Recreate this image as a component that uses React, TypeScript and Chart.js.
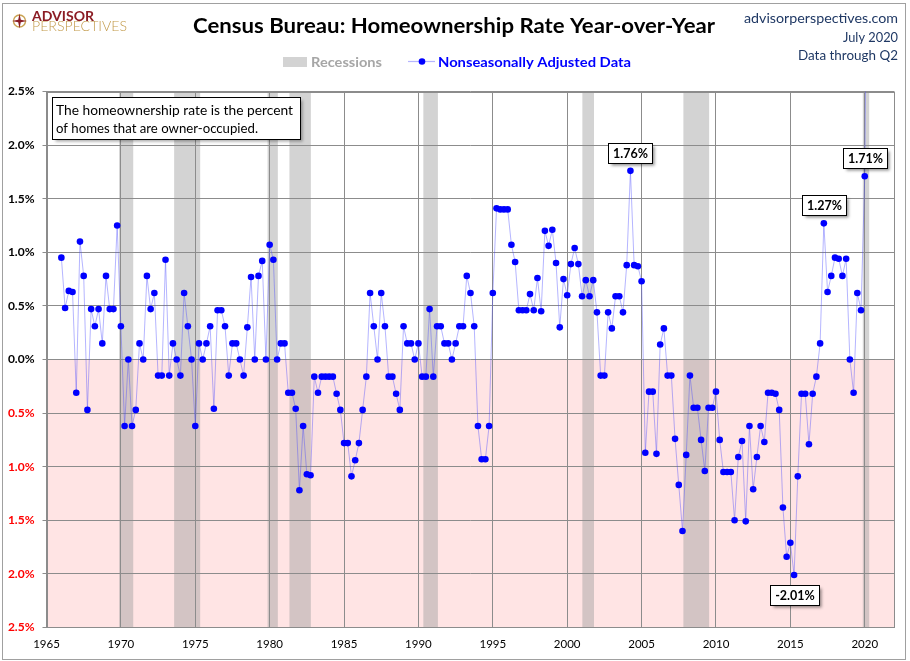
import React, { useEffect, useRef } from 'react';
import { Chart, registerables } from 'chart.js';

Chart.register(...registerables);

// ---------------- DATA ----------------
// Year-over-year % change in the (nonseasonally adjusted) homeownership rate, quarterly, starting 1966 Q1
const FIRST_YEAR = 1966;
const yoy1960s = [0.95, 0.48, 0.64, 0.63, -0.31, 1.10, 0.78, -0.47, 0.47, 0.31, 0.47, 0.15, 0.78, 0.47, 0.47, 1.25];
const yoy1970s = [
  0.31, -0.62, 0.00, -0.62, -0.47, 0.15, 0.00, 0.78, 0.47, 0.62, -0.15, -0.15, 0.93, -0.15, 0.15, 0.00,
  -0.15, 0.62, 0.31, 0.00, -0.62, 0.15, 0.00, 0.15, 0.31, -0.46, 0.46, 0.46, 0.31, -0.15, 0.15, 0.15,
  0.00, -0.15, 0.30, 0.77, 0.00, 0.78, 0.92, 0.00,
];
const yoy1980s = [
  1.07, 0.93, 0.00, 0.15, 0.15, -0.31, -0.31, -0.46, -1.22, -0.62, -1.07, -1.08, -0.16, -0.31, -0.16, -0.16,
  -0.16, -0.16, -0.32, -0.47, -0.78, -0.78, -1.09, -0.94, -0.78, -0.47, -0.16, 0.62, 0.31, 0.00, 0.62, 0.31,
  -0.16, -0.16, -0.32, -0.47, 0.31, 0.15, 0.15, 0.00,
];
const yoy1990s = [
  0.15, -0.16, -0.16, 0.47, -0.16, 0.31, 0.31, 0.15, 0.15, 0.00, 0.15, 0.31, 0.31, 0.78, 0.62, 0.31,
  -0.62, -0.93, -0.93, -0.62, 0.62, 1.41, 1.40, 1.40, 1.40, 1.07, 0.91, 0.46, 0.46, 0.46, 0.61, 0.46,
  0.76, 0.45, 1.20, 1.06, 1.21, 0.90, 0.30, 0.75,
];
const yoy2000s = [
  0.60, 0.89, 1.04, 0.89, 0.59, 0.74, 0.59, 0.74, 0.44, -0.15, -0.15, 0.44, 0.29, 0.59, 0.59, 0.44,
  0.88, 1.76, 0.88, 0.87, 0.73, -0.87, -0.30, -0.30, -0.88, 0.14, 0.29, -0.15, -0.15, -0.74, -1.17, -1.60,
  -0.89, -0.15, -0.45, -0.45, -0.75, -1.04, -0.45, -0.45,
];
const yoy2010s = [
  -0.30, -0.75, -1.05, -1.05, -1.05, -1.50, -0.91, -0.76, -1.51, -0.62, -1.21, -0.91, -0.62, -0.77, -0.31, -0.31,
  -0.32, -0.47, -1.38, -1.84, -1.71, -2.01, -1.09, -0.32, -0.32, -0.79, -0.32, -0.16, 0.15, 1.27, 0.63, 0.78,
  0.95, 0.94, 0.78, 0.94, 0.00, -0.31, 0.62, 0.46,
];
const yoy2020s = [1.71, 5.93];

// Recessions (decimal years)
const recessionStart = [1969.88, 1973.58, 1979.86, 1981.33, 1990.33, 2001.02, 2007.81, 2019.87];
const recessionEnd = [1970.83, 1975.33, 1980.55, 1982.77, 1991.31, 2001.8, 2009.54, 2020.3];

// Callouts
const calloutYears = [2004, 2017, 2020, 2015];
const calloutQuarters = [2, 2, 1, 2];
const calloutBelow = [false, false, false, true];

// Axis
const X_MIN = 1965;
const X_MAX = 2022;
const xTickValues = [1965, 1970, 1975, 1980, 1985, 1990, 1995, 2000, 2005, 2010, 2015, 2020];
const Y_MIN = -2.5;
const Y_MAX = 2.5;
const Y_STEP = 0.5;

// Text
const TITLE = 'Census Bureau: Homeownership Rate Year-over-Year';
const SITE = 'advisorperspectives.com';
const DATE_TEXT = 'July 2020';
const THROUGH_TEXT = 'Data through Q2';
const NOTE_LINES = ['The homeownership rate is the percent', 'of homes that are owner-occupied.'];
const LEGEND_RECESSIONS = 'Recessions';
const LEGEND_SERIES = 'Nonseasonally Adjusted Data';

// ---------------- STYLE ----------------
const FONT = 'Lato, "Open Sans", "DejaVu Sans", sans-serif';
const GRID = '#8c8c8c';
const PINK = '#ffe4e4';
const BAND = 'rgba(160,160,160,0.46)';
const NAVY = '#1f3864';
const LINE = 'rgba(70,70,255,0.40)';
const DOT = '#0000ff';

const allValues = [...yoy1960s, ...yoy1970s, ...yoy1980s, ...yoy1990s, ...yoy2000s, ...yoy2010s, ...yoy2020s];
const points = allValues.map((v, i) => ({ x: FIRST_YEAR + i / 4, y: v }));

function fitText(
  ctx: CanvasRenderingContext2D,
  text: string,
  x: number,
  y: number,
  width: number,
  font: string,
  color: string,
  align: 'left' | 'center' | 'right' = 'left'
) {
  ctx.save();
  ctx.font = font;
  ctx.fillStyle = color;
  ctx.textBaseline = 'alphabetic';
  ctx.textAlign = 'left';
  const w = ctx.measureText(text).width || 1;
  const s = width / w;
  const x0 = align === 'left' ? x : align === 'center' ? x - width / 2 : x - width;
  ctx.translate(x0, y);
  ctx.scale(s, 1);
  ctx.fillText(text, 0, 0);
  ctx.restore();
}

const decorPlugin = {
  id: 'decor',
  beforeDraw(chart: any) {
    const { ctx, chartArea: a, scales } = chart;
    const xs = scales.x;
    const ys = scales.y;
    ctx.save();
    ctx.fillStyle = '#ffffff';
    ctx.fillRect(0, 0, chart.width, chart.height);
    const y0 = ys.getPixelForValue(0);
    ctx.fillStyle = PINK;
    ctx.fillRect(a.left, y0, a.right - a.left, a.bottom - y0);
    ctx.fillStyle = BAND;
    recessionStart.forEach((s, i) => {
      const x1 = xs.getPixelForValue(s);
      const x2 = xs.getPixelForValue(recessionEnd[i]);
      ctx.fillRect(x1, a.top, x2 - x1, a.bottom - a.top);
    });
    ctx.restore();
  },
  beforeDatasetsDraw(chart: any) {
    const { ctx, chartArea: a } = chart;
    ctx.save();
    ctx.strokeStyle = GRID;
    ctx.lineWidth = 1;
    ctx.strokeRect(Math.round(a.left) + 0.5, Math.round(a.top) + 0.5, Math.round(a.right - a.left) - 1, Math.round(a.bottom - a.top) - 1);
    ctx.restore();
  },
  afterDraw(chart: any) {
    const { ctx } = chart;
    const meta = chart.getDatasetMeta(0);

    // callouts
    calloutYears.forEach((yr, i) => {
      const idx = (yr - FIRST_YEAR) * 4 + (calloutQuarters[i] - 1);
      const el = meta.data[idx];
      if (!el) return;
      const text = allValues[idx].toFixed(2) + '%';
      ctx.save();
      ctx.font = `bold 12.5px ${FONT}`;
      const tw = ctx.measureText(text).width;
      const bw = Math.round(tw + 9);
      const bh = 20;
      const bx = Math.round(el.x - bw / 2) + 0.5;
      const by = calloutBelow[i] ? Math.round(el.y + 10) + 0.5 : Math.round(el.y - 8 - bh) + 0.5;
      ctx.shadowColor = 'rgba(0,0,0,0.45)';
      ctx.shadowBlur = 3;
      ctx.shadowOffsetX = 2;
      ctx.shadowOffsetY = 2;
      ctx.fillStyle = '#ffffff';
      ctx.fillRect(bx, by, bw, bh);
      ctx.shadowColor = 'transparent';
      ctx.strokeStyle = '#000000';
      ctx.lineWidth = 1;
      ctx.strokeRect(bx, by, bw, bh);
      ctx.fillStyle = '#000000';
      ctx.textAlign = 'center';
      ctx.textBaseline = 'middle';
      ctx.fillText(text, bx + bw / 2, by + bh / 2 + 0.5);
      ctx.restore();
    });

    // note box
    ctx.save();
    ctx.shadowColor = 'rgba(0,0,0,0.35)';
    ctx.shadowBlur = 3;
    ctx.shadowOffsetX = 2;
    ctx.shadowOffsetY = 2;
    ctx.fillStyle = '#ffffff';
    ctx.fillRect(52.5, 97.5, 248, 42);
    ctx.shadowColor = 'transparent';
    ctx.strokeStyle = '#000000';
    ctx.lineWidth = 1;
    ctx.strokeRect(52.5, 97.5, 248, 42);
    ctx.restore();
    fitText(ctx, NOTE_LINES[0], 56, 114.5, 237, `14px ${FONT}`, '#000000');
    fitText(ctx, NOTE_LINES[1], 56, 133, 202, `14px ${FONT}`, '#000000');

    // title
    fitText(ctx, TITLE, 454, 33, 522, `bold 20px ${FONT}`, '#000000', 'center');

    // top right
    fitText(ctx, SITE, 898, 23, 154, `14px ${FONT}`, NAVY, 'right');
    fitText(ctx, DATE_TEXT, 898, 41.5, 55, `14px ${FONT}`, NAVY, 'right');
    fitText(ctx, THROUGH_TEXT, 898, 60, 100, `14px ${FONT}`, NAVY, 'right');

    // legend
    ctx.save();
    ctx.fillStyle = '#d3d3d3';
    ctx.fillRect(283, 57, 24, 10);
    ctx.strokeStyle = LINE;
    ctx.lineWidth = 1.2;
    ctx.beginPath();
    ctx.moveTo(408, 61.5);
    ctx.lineTo(435, 61.5);
    ctx.stroke();
    ctx.fillStyle = DOT;
    ctx.beginPath();
    ctx.arc(422, 61.5, 3.3, 0, Math.PI * 2);
    ctx.fill();
    ctx.restore();
    fitText(ctx, LEGEND_RECESSIONS, 311, 67, 71, `bold 14px ${FONT}`, '#a6a6a6');
    fitText(ctx, LEGEND_SERIES, 438, 67, 193, `bold 14px ${FONT}`, '#0000ff');

    // logo
    ctx.save();
    const cx = 19.5, cy = 21;
    ctx.strokeStyle = '#c9a253';
    ctx.lineWidth = 1.4;
    ctx.beginPath();
    ctx.arc(cx, cy, 6, 0, Math.PI * 2);
    ctx.stroke();
    ctx.fillStyle = '#8b1c24';
    ctx.beginPath();
    const R = 7.5, r = 1.8;
    for (let k = 0; k < 8; k++) {
      const ang = -Math.PI / 2 + (k * Math.PI) / 4;
      const rad = k % 2 === 0 ? R : r;
      const px = cx + rad * Math.cos(ang);
      const py = cy + rad * Math.sin(ang);
      if (k === 0) ctx.moveTo(px, py);
      else ctx.lineTo(px, py);
    }
    ctx.closePath();
    ctx.fill();
    ctx.restore();
    fitText(ctx, 'ADVISOR', 32, 20.5, 62, `bold 13.5px ${FONT}`, '#8b1c24');
    fitText(ctx, 'PERSPECTIVES', 32, 31, 95, `300 13px ${FONT}`, '#c29a4a');

    // outer frame
    ctx.save();
    ctx.strokeStyle = '#a0a0a0';
    ctx.lineWidth = 1;
    ctx.strokeRect(2.5, 3.5, 903, 656);
    ctx.restore();
  },
};

export default function App() {
  const ref = useRef<HTMLCanvasElement>(null);

  useEffect(() => {
    document.body.style.margin = '0';
    const canvas = ref.current;
    if (!canvas) return;
    const chart = new Chart(canvas, {
      type: 'line',
      data: {
        datasets: [
          {
            label: LEGEND_SERIES,
            data: points,
            borderColor: LINE,
            borderWidth: 1,
            backgroundColor: DOT,
            pointBackgroundColor: DOT,
            pointBorderColor: DOT,
            pointBorderWidth: 0,
            pointRadius: 3.3,
            pointHoverRadius: 3.3,
            tension: 0,
            fill: false,
          },
        ],
      },
      options: {
        responsive: false,
        maintainAspectRatio: false,
        animation: false,
        events: [],
        layout: { padding: { top: 91.5, right: 15.5, bottom: 0, left: 0 } },
        plugins: {
          legend: { display: false },
          title: { display: false },
          tooltip: { enabled: false },
        },
        scales: {
          x: {
            type: 'linear',
            min: X_MIN,
            max: X_MAX,
            afterFit: (scale: any) => {
              scale.height = 33.5;
            },
            afterBuildTicks: (scale: any) => {
              scale.ticks = xTickValues.map((v) => ({ value: v }));
            },
            ticks: {
              stepSize: 5,
              autoSkip: false,
              maxRotation: 0,
              padding: 10,
              color: '#000000',
              font: { family: FONT, size: 11.5 },
              callback: (v: any) => String(v),
            },
            grid: { color: GRID, lineWidth: 1, drawTicks: false },
            border: { display: true, color: GRID },
          },
          y: {
            type: 'linear',
            min: Y_MIN,
            max: Y_MAX,
            afterFit: (scale: any) => {
              scale.width = 46.5;
            },
            ticks: {
              stepSize: Y_STEP,
              padding: 8,
              font: { family: FONT, size: 12, weight: 'bold' },
              color: (c: any) => (c.tick && c.tick.value < -0.01 ? '#ff0000' : '#000000'),
              callback: (v: any) => Math.abs(Number(v)).toFixed(1) + '%',
            },
            grid: { color: GRID, lineWidth: 1, tickLength: 4, drawTicks: true },
            border: { display: true, color: GRID },
          },
        },
      },
      plugins: [decorPlugin],
    } as any);
    return () => chart.destroy();
  }, []);

  return (
    <div style={{ width: 910, height: 661 }}>
      <canvas ref={ref} width={910} height={661} style={{ display: 'block', width: 910, height: 661 }} />
    </div>
  );
}
